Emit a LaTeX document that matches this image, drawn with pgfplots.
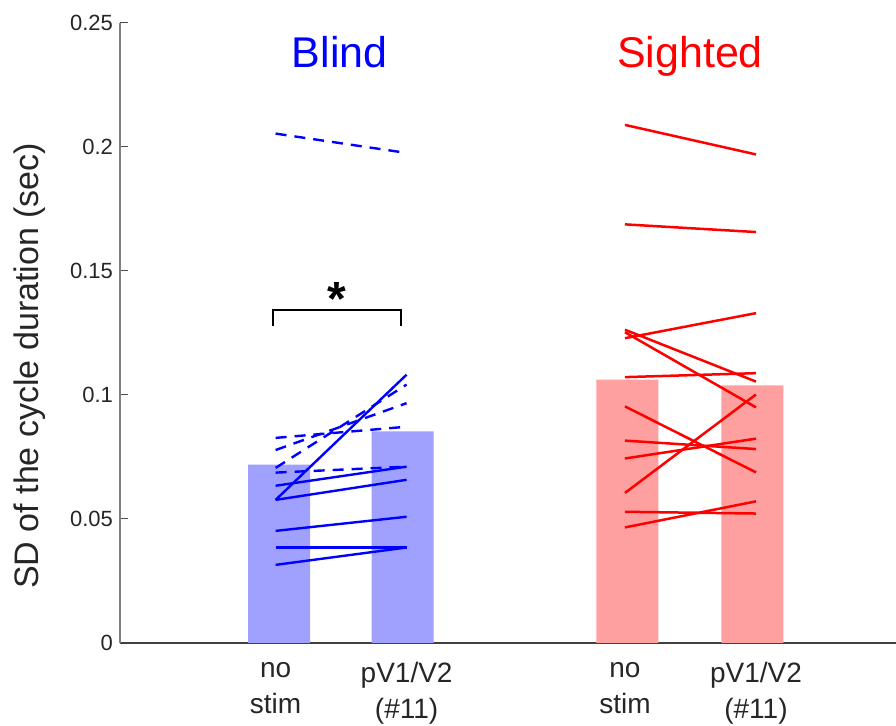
\documentclass[border=0pt]{standalone}
\usepackage{fontspec}
\setmainfont{Liberation Sans}
\usepackage{pgfplots}
\pgfplotsset{compat=1.18}
\definecolor{bblue}{RGB}{0,0,255}
\definecolor{rred}{RGB}{255,0,0}
\definecolor{bbar}{RGB}{160,160,255}
\definecolor{rbar}{RGB}{255,160,160}
\begin{document}
\begin{tikzpicture}
\begin{axis}[
  at={(60pt,41.5pt)}, anchor=south west,
  scale only axis, width=388pt, height=310pt,
  xmin=-0.188, xmax=5.736, ymin=0, ymax=0.25,
  axis x line*=bottom, axis y line*=left,
  x axis line style={-, black!75, line width=0.6pt},
  y axis line style={-, black!50, line width=0.6pt},
  xtick={1,2,3.667,4.667},
  xticklabels={{no\\stim},{pV1/V2\\(\#11)},{no\\stim},{pV1/V2\\(\#11)}},
  xticklabel style={align=center, yshift=-6pt, font=\fontsize{14}{18.3}\selectfont, text=black!85},
  ytick={0,0.05,0.1,0.15,0.2,0.25},
  yticklabels={0,0.05,0.1,0.15,0.2,0.25},
  yticklabel style={font=\fontsize{11}{13}\selectfont, text=black!85},
  tick align=inside, major tick length=4pt,
  every tick/.style={black!70, line width=0.5pt},
  ylabel={SD of the cycle duration (sec)},
  ylabel style={at={(axis description cs:-0.116,0.447)}, anchor=center, font=\fontsize{17}{20}\selectfont, text=black!85},
  clip=false,
  bl/.style={bblue, line width=1.2pt},
  bld/.style={bblue, line width=1.2pt, dash pattern=on 5.5pt off 4pt},
  rl/.style={rred, line width=1.25pt},
]
\addplot[ybar, bar width=0.473, bar shift=0pt, fill=bbar, draw=none] coordinates {(1.026,0.0719)(1.97,0.0853)};
\addplot[ybar, bar width=0.473, bar shift=0pt, fill=rbar, draw=none] coordinates {(3.685,0.1062)(4.64,0.1039)};
% Blind dashed
\addplot[bld] coordinates {(1,0.2054)(2,0.1976)};
\addplot[bld] coordinates {(1,0.0827)(2,0.0872)};
\addplot[bld] coordinates {(1,0.0778)(2,0.0967)};
\addplot[bld] coordinates {(1,0.0706)(2,0.1042)};
\addplot[bld] coordinates {(1,0.0687)(2,0.0711)};
% Blind solid
\addplot[bl] coordinates {(1,0.0634)(2,0.0711)};
\addplot[bl] coordinates {(1,0.0577)(2,0.0658)};
\addplot[bl] coordinates {(1,0.0577)(2,0.1082)};
\addplot[bl] coordinates {(1,0.0452)(2,0.0509)};
\addplot[bl] coordinates {(1,0.0385)(2,0.0385)};
\addplot[bl] coordinates {(1,0.0315)(2,0.0385)};
% Sighted
\addplot[rl] coordinates {(3.667,0.2089)(4.667,0.1970)};
\addplot[rl] coordinates {(3.667,0.1688)(4.667,0.1657)};
\addplot[rl] coordinates {(3.667,0.1229)(4.667,0.1330)};
\addplot[rl] coordinates {(3.667,0.1263)(4.667,0.1054)};
\addplot[rl] coordinates {(3.667,0.1253)(4.667,0.0950)};
\addplot[rl] coordinates {(3.667,0.1072)(4.667,0.1088)};
\addplot[rl] coordinates {(3.667,0.0954)(4.667,0.0688)};
\addplot[rl] coordinates {(3.667,0.0816)(4.667,0.0782)};
\addplot[rl] coordinates {(3.667,0.0744)(4.667,0.0824)};
\addplot[rl] coordinates {(3.667,0.0605)(4.667,0.1002)};
\addplot[rl] coordinates {(3.667,0.0529)(4.667,0.0522)};
\addplot[rl] coordinates {(3.667,0.0466)(4.667,0.0571)};
% significance bracket
\addplot[black, line width=1pt] coordinates {(0.98,0.128)(0.98,0.1341)(1.957,0.1341)(1.957,0.128)};
\node[anchor=base, font=\bfseries\fontsize{24}{24}\selectfont] at (axis cs:1.47,0.1321) {*};
\node[anchor=base, text=bblue, font=\fontsize{21.5}{24}\selectfont] at (axis cs:1.49,0.2322) {Blind};
\node[anchor=base, text=rred, font=\fontsize{21.5}{24}\selectfont] at (axis cs:4.163,0.2322) {Sighted};
\end{axis}
\pgfresetboundingbox
\path[use as bounding box] (0,0) rectangle (448pt,363pt);
\end{tikzpicture}
\end{document}
